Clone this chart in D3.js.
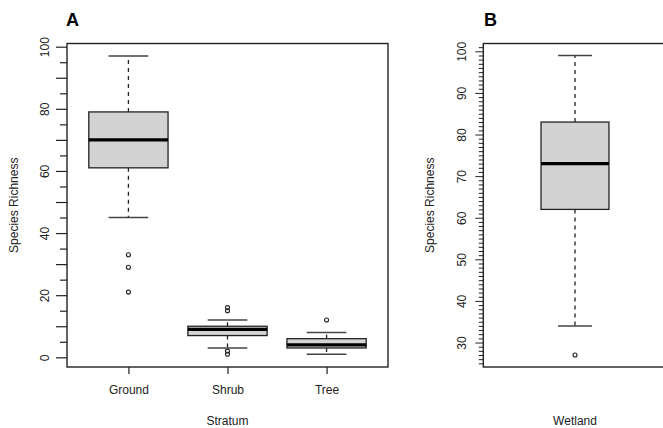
<!DOCTYPE html>
<html>
<head>
<meta charset="utf-8">
<script src="https://cdn.jsdelivr.net/npm/d3@7"></script>
<style>
  body { margin: 0; background: #fff; }
  svg { font-family: "Liberation Sans", Arial, sans-serif; }
</style>
</head>
<body>
<div id="chart"></div>
<script>
// panel A data
var strata = ["Ground", "Shrub", "Tree"];
var lowW   = [45, 3, 1];
var q1     = [61, 7, 3];
var med    = [70, 9, 4];
var q3     = [79, 10, 6];
var highW  = [97, 12, 8];
var outA   = [[33, 29, 21], [16, 15, 2, 1], [12]];

// panel B data
var wetStats = {low: 34, q1: 62, med: 73, q3: 83, high: 99};
var outB = [27];

var W = 663, H = 428;
var svg = d3.select("#chart").append("svg")
    .attr("width", W)
    .attr("height", H);

var ink = "#222";

// draw one boxplot
function drawBox(g, x, y, cx, halfw, s, outs) {
  var staple = halfw / 2;
  // whiskers (dashed)
  g.append("line")
    .attr("x1", x(cx)).attr("x2", x(cx))
    .attr("y1", y(s.q3)).attr("y2", y(s.high))
    .attr("stroke", ink).attr("stroke-width", 1.3).attr("stroke-dasharray", "4,4");
  g.append("line")
    .attr("x1", x(cx)).attr("x2", x(cx))
    .attr("y1", y(s.q1)).attr("y2", y(s.low))
    .attr("stroke", ink).attr("stroke-width", 1.3).attr("stroke-dasharray", "4,4");
  // staples
  [s.low, s.high].forEach(function(v) {
    g.append("line")
      .attr("x1", x(cx - staple)).attr("x2", x(cx + staple))
      .attr("y1", y(v)).attr("y2", y(v))
      .attr("stroke", "#444").attr("stroke-width", 1.5);
  });
  // box
  g.append("rect")
    .attr("x", x(cx - halfw))
    .attr("y", y(s.q3))
    .attr("width", x(cx + halfw) - x(cx - halfw))
    .attr("height", y(s.q1) - y(s.q3))
    .attr("fill", "#d3d3d3")
    .attr("stroke", ink).attr("stroke-width", 1.3);
  // median
  g.append("line")
    .attr("x1", x(cx - halfw)).attr("x2", x(cx + halfw))
    .attr("y1", y(s.med)).attr("y2", y(s.med))
    .attr("stroke", "#000").attr("stroke-width", 3.2);
  // outliers
  g.selectAll(null).data(outs).enter().append("circle")
    .attr("cx", x(cx))
    .attr("cy", function(d) { return y(d); })
    .attr("r", 2)
    .attr("fill", "none")
    .attr("stroke", ink).attr("stroke-width", 1.1);
}

// ---------- panel A ----------
var A = {left: 67, right: 388, top: 43.5, bottom: 367};
var xA = d3.scaleLinear().domain([0.38, 3.62]).range([A.left, A.right]);
var yA = d3.scaleLinear().domain([-3.12, 101.03]).range([A.bottom, A.top]);

var gA = svg.append("g");

var axA = gA.append("g")
    .attr("transform", "translate(" + A.left + ",0)")
    .call(d3.axisLeft(yA).tickValues(d3.range(0, 101, 5)).tickSize(0)
      .tickFormat(function(d) { return d % 20 === 0 ? d : ""; }));
axA.select(".domain").remove();
axA.selectAll(".tick line")
    .attr("x2", function(d) { return d % 10 === 0 ? -11 : -7; })
    .attr("stroke", ink).attr("stroke-width", 1.2);
axA.selectAll(".tick text")
    .attr("transform", "rotate(-90)")
    .attr("x", 0).attr("y", -18).attr("dy", null)
    .attr("text-anchor", "middle")
    .attr("fill", ink)
    .style("font-size", "12px");

var xAxisA = gA.append("g")
    .attr("transform", "translate(0," + A.bottom + ")")
    .call(d3.axisBottom(xA).tickValues([1, 2, 3]).tickSize(7).tickPadding(11)
      .tickFormat(function(d) { return strata[d - 1]; }));
xAxisA.select(".domain").remove();
xAxisA.selectAll(".tick line").attr("stroke", ink).attr("stroke-width", 1.2);
xAxisA.selectAll(".tick text").attr("fill", ink).style("font-size", "12px");

strata.forEach(function(s, i) {
  drawBox(gA, xA, yA, i + 1, 0.4,
    {low: lowW[i], q1: q1[i], med: med[i], q3: q3[i], high: highW[i]}, outA[i]);
});

gA.append("rect")
    .attr("x", A.left).attr("y", A.top)
    .attr("width", A.right - A.left).attr("height", A.bottom - A.top)
    .attr("fill", "none").attr("stroke", ink).attr("stroke-width", 1.4);

gA.append("text")
    .attr("x", (A.left + A.right) / 2).attr("y", 425)
    .attr("text-anchor", "middle").attr("fill", ink)
    .style("font-size", "12px").text("Stratum");
gA.append("text")
    .attr("transform", "translate(18," + (A.top + A.bottom) / 2 + ") rotate(-90)")
    .attr("text-anchor", "middle").attr("fill", ink)
    .style("font-size", "12px").text("Species Richness");
gA.append("text")
    .attr("x", 66).attr("y", 26)
    .attr("fill", "#000").style("font-size", "18px").style("font-weight", "bold")
    .text("A");

// ---------- panel B ----------
var B = {left: 483.3, right: 666.7, top: 43.5, bottom: 367};
var xB = d3.scaleLinear().domain([0.46, 1.54]).range([B.left, B.right]);
var yB = d3.scaleLinear().domain([24.12, 101.88]).range([B.bottom, B.top]);

var gB = svg.append("g");

var axB = gB.append("g")
    .attr("transform", "translate(" + B.left + ",0)")
    .call(d3.axisLeft(yB).tickValues(d3.range(25, 102, 1)).tickSize(0)
      .tickFormat(function(d) { return d % 10 === 0 ? d : ""; }));
axB.select(".domain").remove();
axB.selectAll(".tick line")
    .attr("x2", function(d) { return d % 10 === 0 ? -8 : -4.5; })
    .attr("stroke", ink).attr("stroke-width", 1);
axB.selectAll(".tick text")
    .attr("transform", "rotate(-90)")
    .attr("x", 0).attr("y", -17.5).attr("dy", null)
    .attr("text-anchor", "middle")
    .attr("fill", ink)
    .style("font-size", "12px");

drawBox(gB, xB, yB, 1, 0.2, wetStats, outB);

gB.append("rect")
    .attr("x", B.left).attr("y", B.top)
    .attr("width", B.right - B.left).attr("height", B.bottom - B.top)
    .attr("fill", "none").attr("stroke", ink).attr("stroke-width", 1.4);

gB.append("text")
    .attr("x", xB(1)).attr("y", 425)
    .attr("text-anchor", "middle").attr("fill", ink)
    .style("font-size", "12px").text("Wetland");
gB.append("text")
    .attr("transform", "translate(434," + (B.top + B.bottom) / 2 + ") rotate(-90)")
    .attr("text-anchor", "middle").attr("fill", ink)
    .style("font-size", "12px").text("Species Richness");
gB.append("text")
    .attr("x", 484).attr("y", 26)
    .attr("fill", "#000").style("font-size", "18px").style("font-weight", "bold")
    .text("B");
</script>
</body>
</html>
